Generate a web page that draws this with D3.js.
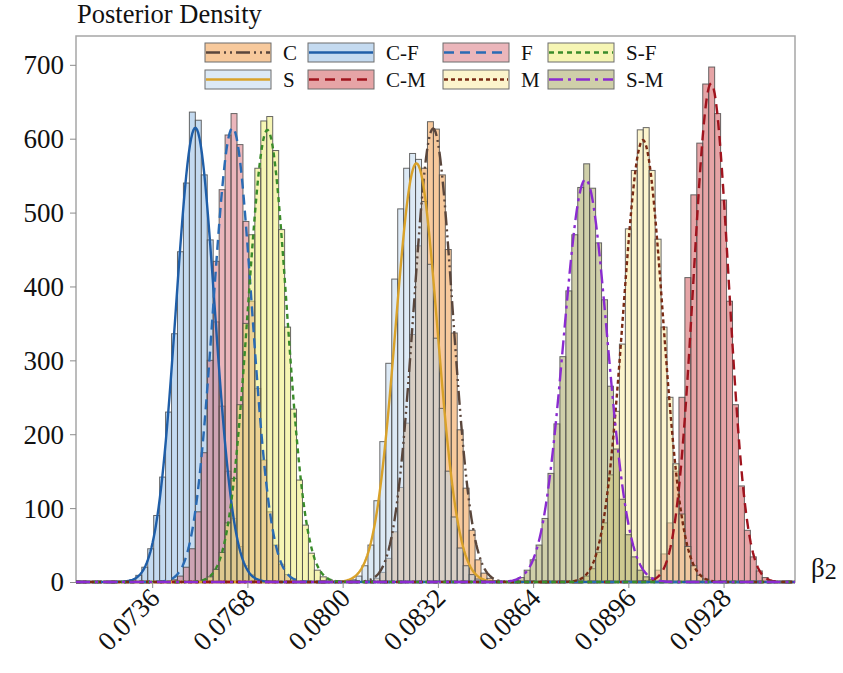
<!DOCTYPE html>
<html>
<head>
<meta charset="utf-8">
<script src="https://cdn.jsdelivr.net/npm/d3@7/dist/d3.min.js"></script>
<style>
  body { margin: 0; background: #fff; }
  text { font-family: "Liberation Serif", "Times New Roman", serif; fill: #111; }
</style>
</head>
<body>
<svg id="chart" width="843" height="673"></svg>
<script>
// ---- data -------------------------------------------------------------
const binWidth = 0.0002;
const seriesNames = ["C", "S", "C-F", "C-M", "F", "M", "S-F", "S-M"];
// left edge of the first bin of each histogram (same order as seriesNames)
const firstBin = [0.08085, 0.08025, 0.07285, 0.0901, 0.07425, 0.0879, 0.07525, 0.0857];

// posterior density per bin
const densC  = [2, 5, 13, 32, 68, 128, 215, 335, 455, 560, 623, 613, 551, 450, 337, 206, 127, 70, 30, 12, 5, 2];
const densS  = [3, 8, 22, 50, 110, 190, 296, 410, 505, 560, 580, 572, 515, 430, 330, 235, 150, 88, 46, 22, 10, 4];
const densCF = [3, 9, 20, 45, 90, 142, 230, 336, 447, 540, 636, 625, 551, 463, 352, 238, 150, 86, 48, 22, 10, 4];
const densCM = [2, 6, 16, 38, 80, 150, 250, 412, 524, 594, 674, 697, 634, 517, 380, 240, 130, 70, 34, 15, 6, 2];
const densF  = [3, 8, 20, 45, 95, 175, 300, 434, 531, 605, 634, 592, 488, 380, 262, 165, 95, 50, 24, 10, 4];
const densM  = [3, 8, 18, 40, 80, 145, 231, 322, 478, 557, 612, 615, 557, 464, 345, 250, 160, 92, 48, 22, 9, 4];
const densSF = [3, 7, 17, 40, 80, 140, 240, 350, 470, 560, 624, 630, 584, 477, 345, 234, 138, 77, 39, 16, 7, 3];
const densSM = [2, 6, 16, 30, 50, 86, 147, 214, 305, 394, 470, 534, 566, 533, 459, 382, 265, 180, 112, 64, 34, 16, 7, 3];

// fitted normal densities: mean and standard deviation
const curveMean = [0.08304, 0.08248, 0.07505, 0.09238, 0.07630, 0.09009, 0.07747, 0.08816];
const curveSD   = [0.000650, 0.000704, 0.000649, 0.000591, 0.000649, 0.000667, 0.000652, 0.000732];

// range covered by the (partly empty) bins
const binRange = [0.0713, 0.0950];

const xTicks = [0.0736, 0.0768, 0.0800, 0.0832, 0.0864, 0.0896, 0.0928];
const yTicks = [0, 100, 200, 300, 400, 500, 600, 700];

// ---- styles -------------------------------------------------------------
const fillColor = ["#ef9339", "#b9d3eb", "#89b5e1", "#cd494d", "#d76d77", "#f9e999", "#edeb69", "#9f9f53"];
const lineColor = ["#5a463c", "#d9a22a", "#1f5ea8", "#a0141e", "#2a6bb4", "#7a2b14", "#3a8c2a", "#8a2bd0"];
const lineDash  = ["14,4,2,4,2,4", null, null, "10,6", "10,6", "4,3", "5,4", "14,5,3,5"];

const densities = [densC, densS, densCF, densCM, densF, densM, densSF, densSM];

// ---- layout ------------------------------------------------------------
const svg = d3.select("#chart");
const plot = { left: 76, right: 795, top: 36, bottom: 582 };

const x = d3.scaleLinear().domain([0.07104, 0.09520]).range([plot.left, plot.right]);
const y = d3.scaleLinear().domain([0, 739]).range([plot.bottom, plot.top]);

// frame
svg.append("rect")
  .attr("x", plot.left).attr("y", plot.top)
  .attr("width", plot.right - plot.left).attr("height", plot.bottom - plot.top)
  .attr("fill", "none").attr("stroke", "#a6a6a6").attr("stroke-width", 1.5);

// histograms
const bins = seriesNames.map((name, i) =>
  densities[i].map((d, k) => ({
    series: i,
    x0: firstBin[i] + k * binWidth,
    x1: firstBin[i] + (k + 1) * binWidth,
    d
  })));

const histG = svg.append("g");
bins.forEach((sb, i) => {
  histG.append("g")
    .selectAll("rect")
    .data(sb)
    .join("rect")
    .attr("x", b => x(b.x0))
    .attr("width", b => x(b.x1) - x(b.x0))
    .attr("y", b => y(b.d))
    .attr("height", b => y(0) - y(b.d))
    .attr("fill", fillColor[i])
    .attr("fill-opacity", 0.5)
    .attr("stroke", "#4d4d4d")
    .attr("stroke-opacity", 0.85)
    .attr("stroke-width", 1);
});

// baseline of empty bins
svg.append("line")
  .attr("x1", x(binRange[0])).attr("x2", x(binRange[1]))
  .attr("y1", y(0)).attr("y2", y(0))
  .attr("stroke", "#555").attr("stroke-width", 1.2);

// fitted density curves
const grid = d3.range(0, 601).map(k => x.domain()[0] + k * (x.domain()[1] - x.domain()[0]) / 600);
const normal = (v, m, s) => Math.exp(-0.5 * ((v - m) / s) ** 2) / (s * Math.sqrt(2 * Math.PI));
const line = d3.line().x(p => x(p[0])).y(p => y(p[1]));

seriesNames.forEach((name, i) => {
  const pts = grid.map(v => [v, normal(v, curveMean[i], curveSD[i])]);
  svg.append("path")
    .attr("d", line(pts))
    .attr("fill", "none")
    .attr("stroke", lineColor[i])
    .attr("stroke-width", 2.4)
    .attr("stroke-dasharray", lineDash[i]);
});

// axes
const yAxis = svg.append("g")
  .attr("transform", `translate(${plot.left},0)`)
  .call(d3.axisLeft(y).tickValues(yTicks).tickSize(6).tickPadding(6).tickFormat(d3.format("d")));
yAxis.select(".domain").remove();
yAxis.selectAll(".tick line").attr("stroke", "#8c8c8c");
yAxis.selectAll(".tick text")
  .style("font-size", "27px")
  .style("font-family", "'Liberation Serif', serif")
  .attr("fill", "#111")
  .attr("x", -12)
  .attr("dy", "0.33em");

const xAxis = svg.append("g")
  .attr("transform", `translate(0,${plot.bottom})`)
  .call(d3.axisBottom(x).tickValues(xTicks).tickSize(6).tickFormat(d3.format(".4f")));
xAxis.select(".domain").remove();
xAxis.selectAll(".tick line").attr("stroke", "#8c8c8c");
xAxis.selectAll(".tick text")
  .style("font-size", "27px")
  .style("font-family", "'Liberation Serif', serif")
  .attr("fill", "#111")
  .attr("text-anchor", "end")
  .attr("x", 0).attr("y", 0).attr("dy", "0.35em")
  .attr("transform", "translate(2,11) rotate(-45)");

// titles
svg.append("text")
  .attr("x", 77).attr("y", 23)
  .style("font-size", "26.5px")
  .text("Posterior Density");

const beta = svg.append("text")
  .attr("x", 811).attr("y", 577)
  .style("font-size", "27px");
beta.append("tspan").text("β");
beta.append("tspan").attr("dy", 2).style("font-size", "24px").text("2");

// legend: two rows, four columns
const legendOrder = ["C", "C-F", "F", "S-F", "S", "C-M", "M", "S-M"];
const colX = [205, 308, 443, 548];
const rowY = [43, 70];
const sw = { w: 66, h: 19 };
legendOrder.forEach((name, j) => {
  const i = seriesNames.indexOf(name);
  const gx = colX[j % 4], gy = rowY[Math.floor(j / 4)];
  const g = svg.append("g").attr("transform", `translate(${gx},${gy})`);
  g.append("rect").attr("width", sw.w).attr("height", sw.h).attr("fill", "#fff");
  g.append("rect").attr("width", sw.w).attr("height", sw.h)
    .attr("fill", fillColor[i]).attr("fill-opacity", 0.5)
    .attr("stroke", "#6d6d6d").attr("stroke-width", 1);
  g.append("line").attr("x1", 1).attr("x2", sw.w - 1)
    .attr("y1", sw.h / 2).attr("y2", sw.h / 2)
    .attr("stroke", lineColor[i]).attr("stroke-width", 2.4)
    .attr("stroke-dasharray", lineDash[i]);
  g.append("text").attr("x", sw.w + 12).attr("y", sw.h / 2).attr("dy", "0.34em")
    .style("font-size", "21px").text(name);
});
</script>
</body>
</html>
